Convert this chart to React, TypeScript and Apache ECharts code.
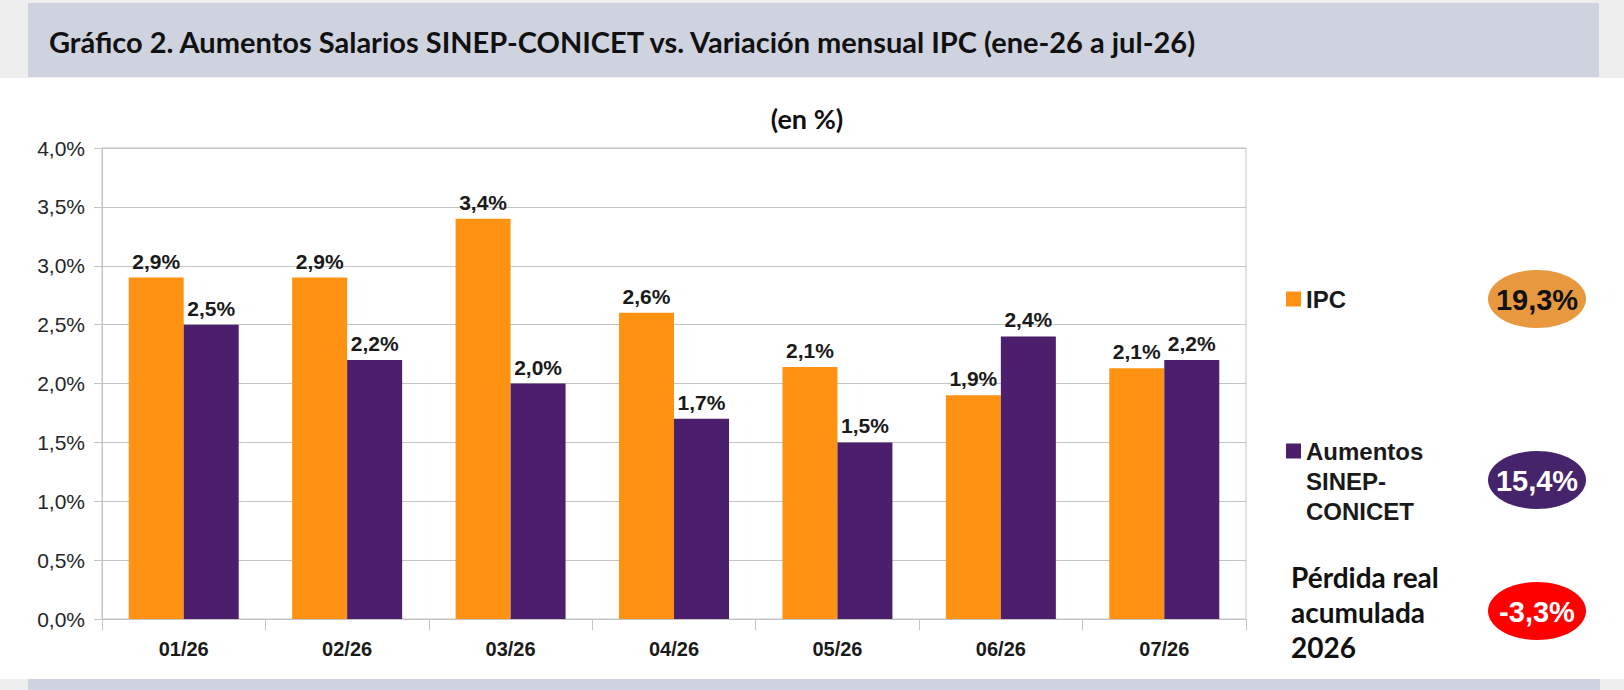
import React, { useEffect, useRef } from "react";
import * as echarts from "echarts";

const categories = ["01/26", "02/26", "03/26", "04/26", "05/26", "06/26", "07/26"];
const ipcName = "IPC";
const sinepName = "Aumentos SINEP-CONICET";
const ipcValues = [2.9, 2.9, 3.4, 2.6, 2.14, 1.9, 2.13];
const sinepValues = [2.5, 2.2, 2.0, 1.7, 1.5, 2.4, 2.2];
const yTicks = { min: 0, max: 4, interval: 0.5 };
const totalIpc = "19,3%";
const totalSinep = "15,4%";
const totalLoss = "-3,3%";
const lossLabel = "Pérdida real\nacumulada\n2026";
const titleText = "Gráfico 2. Aumentos Salarios SINEP-CONICET vs. Variación mensual IPC (ene-26 a jul-26)";
const subtitleText = "(en %)";

const fmt = (v: number) => v.toFixed(1).replace(".", ",") + "%";

const ARIAL = "'Liberation Sans', Arial, sans-serif";
const CALIBRI = "Lato, 'Open Sans', sans-serif";
const ORANGE = "#FF9212";
const PURPLE = "#4B1F6B";
const GRID = "#C4C4C4";

export default function App() {
  const ref = useRef<HTMLDivElement>(null);
  useEffect(() => {
    if (!ref.current) return;
    const chart = echarts.init(ref.current, null, { renderer: "svg" });
    const barLabel = {
      show: true,
      position: "top",
      distance: 6,
      formatter: (p: any) => fmt(p.value),
      fontFamily: ARIAL,
      fontWeight: "bold",
      fontSize: 21,
      color: "#1a1a1a",
    };
    const legendText = {
      fontFamily: ARIAL,
      fontWeight: "bold",
      fontSize: 24,
      color: "#1a1a1a",
    };
    chart.setOption({
      animation: false,
      backgroundColor: "#ffffff",
      grid: {
        left: 102,
        right: 378,
        top: 148,
        bottom: 71,
        show: true,
        borderColor: GRID,
        borderWidth: 1,
        backgroundColor: "transparent",
      },
      legend: [
        {
          data: [ipcName],
          left: 1286,
          top: 287,
          padding: 0,
          icon: "rect",
          itemWidth: 15,
          itemHeight: 15,
          selectedMode: false,
          textStyle: legendText,
        },
        {
          data: [sinepName],
          left: 1286,
          top: 376,
          padding: 0,
          icon: "rect",
          itemWidth: 15,
          itemHeight: 15,
          selectedMode: false,
          formatter: (name: string) => "\n\n" + name.replace(" ", "\n").replace("-", "-\n"),
          textStyle: { ...legendText, lineHeight: 30 },
        },
      ],
      xAxis: {
        type: "category",
        data: categories,
        axisLine: { show: true, lineStyle: { color: GRID, width: 1 } },
        axisTick: { show: true, length: 11, lineStyle: { color: GRID } },
        axisLabel: {
          margin: 20,
          fontFamily: ARIAL,
          fontWeight: "bold",
          fontSize: 20,
          color: "#1a1a1a",
        },
      },
      yAxis: {
        type: "value",
        min: yTicks.min,
        max: yTicks.max,
        interval: yTicks.interval,
        axisLine: { show: true, lineStyle: { color: GRID, width: 1 } },
        axisTick: { show: true, length: 8, lineStyle: { color: GRID } },
        splitLine: { show: true, lineStyle: { color: GRID, width: 1 } },
        axisLabel: {
          margin: 17,
          formatter: (v: number) => fmt(v),
          fontFamily: ARIAL,
          fontSize: 21,
          color: "#262626",
        },
      },
      series: [
        {
          name: ipcName,
          type: "bar",
          data: ipcValues,
          barWidth: 55,
          barGap: "0%",
          itemStyle: { color: ORANGE },
          label: barLabel,
        },
        {
          name: sinepName,
          type: "bar",
          data: sinepValues,
          barWidth: 55,
          barGap: "0%",
          itemStyle: { color: PURPLE },
          label: barLabel,
        },
      ],
      graphic: [
        { type: "rect", silent: true, z: -10, shape: { x: 0, y: 0, width: 1624, height: 78 }, style: { fill: "#EEEEEE" } },
        { type: "rect", silent: true, z: -9, shape: { x: 28, y: 3, width: 1571, height: 74 }, style: { fill: "#CFD3DF" } },
        { type: "rect", silent: true, z: -10, shape: { x: 0, y: 679, width: 1624, height: 11 }, style: { fill: "#EEEEEE" } },
        { type: "rect", silent: true, z: -9, shape: { x: 28, y: 679, width: 1572, height: 11 }, style: { fill: "#CFD3DF" } },
        {
          type: "text",
          silent: true,
          style: { text: titleText, x: 49, y: 41, align: "left", verticalAlign: "middle", font: `bold 29px ${CALIBRI}`, fill: "#111111" },
        },
        {
          type: "text",
          silent: true,
          style: { text: subtitleText, x: 807, y: 118, align: "center", verticalAlign: "middle", font: `bold 27px ${CALIBRI}`, fill: "#111111" },
        },
        { type: "ellipse", silent: true, shape: { cx: 1537, cy: 299, rx: 49, ry: 29 }, style: { fill: "#E8993D" } },
        {
          type: "text",
          silent: true,
          style: { text: totalIpc, x: 1537, y: 300, align: "center", verticalAlign: "middle", font: `bold 29px ${ARIAL}`, fill: "#111111" },
        },
        { type: "ellipse", silent: true, shape: { cx: 1537, cy: 480, rx: 49, ry: 29 }, style: { fill: "#45246B" } },
        {
          type: "text",
          silent: true,
          style: { text: totalSinep, x: 1537, y: 481, align: "center", verticalAlign: "middle", font: `bold 29px ${ARIAL}`, fill: "#ffffff" },
        },
        { type: "ellipse", silent: true, shape: { cx: 1537, cy: 611, rx: 49, ry: 29 }, style: { fill: "#FE0000" } },
        {
          type: "text",
          silent: true,
          style: { text: totalLoss, x: 1537, y: 612, align: "center", verticalAlign: "middle", font: `bold 29px ${ARIAL}`, fill: "#ffffff" },
        },
        {
          type: "text",
          silent: true,
          style: { text: lossLabel, x: 1291, y: 612, align: "left", verticalAlign: "middle", lineHeight: 35, font: `bold 28px ${CALIBRI}`, fill: "#111111" },
        },
      ],
    });
    return () => chart.dispose();
  }, []);
  return <div ref={ref} style={{ position: "absolute", left: 0, top: 0, width: 1624, height: 690 }} />;
}
